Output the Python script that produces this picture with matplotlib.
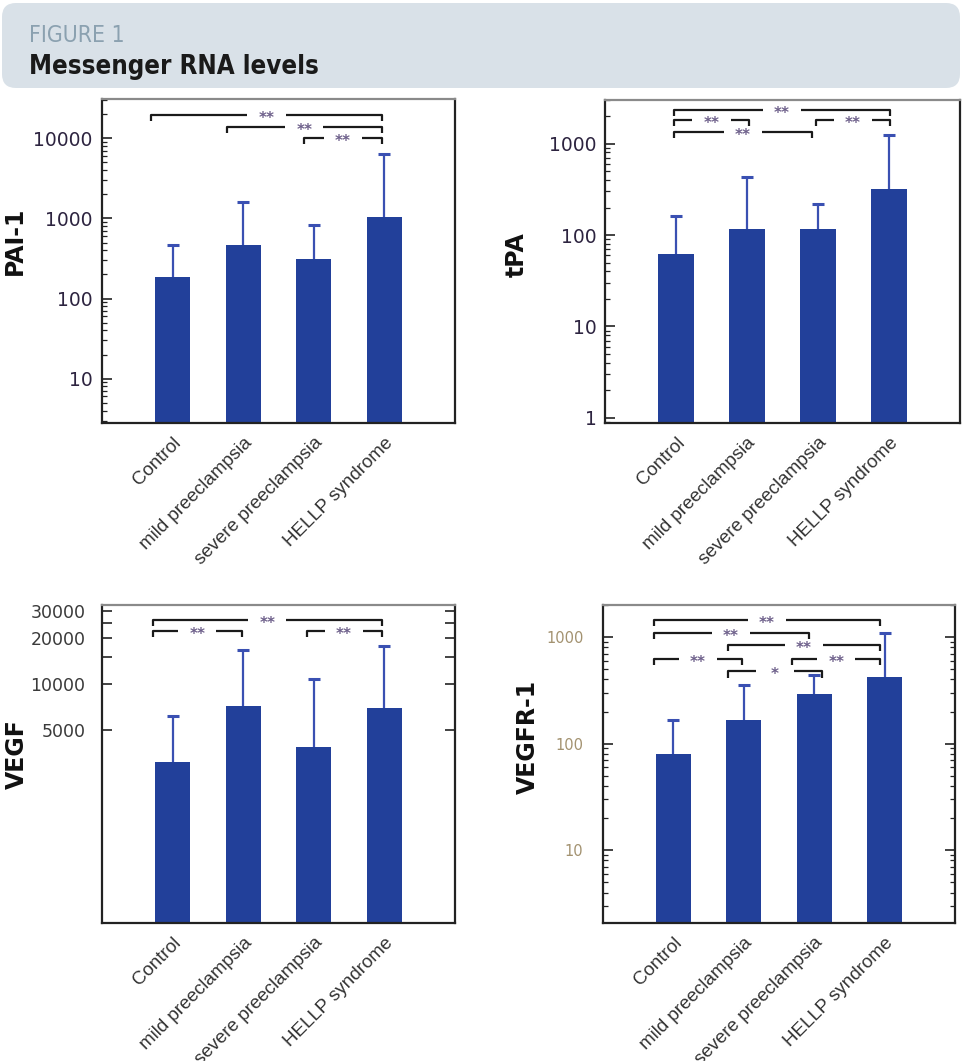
import matplotlib
matplotlib.use('Agg')
from matplotlib import pyplot as plt
from matplotlib.patches import FancyBboxPatch
from matplotlib.ticker import FixedLocator, FuncFormatter, NullFormatter, NullLocator
import numpy as np

groups = ['Control', 'mild preeclampsia', 'severe preeclampsia', 'HELLP syndrome']

pai1_mean = [188, 470, 316, 1030]
pai1_upper = [473, 1590, 840, 6300]

tpa_mean = [62, 117, 117, 316]
tpa_upper = [160, 427, 217, 1250]

vegf_mean = [3130, 7180, 3870, 6970]
vegf_upper = [6200, 16700, 10800, 17700]

vegfr1_mean = [80, 168, 289, 426]
vegfr1_upper = [168, 358, 436, 1090]

# significance brackets: (from, to, level in axes fraction, label)
pai1_sig = [(-0.30, 2.96, 0.951, '**'), (0.77, 2.96, 0.914, '**'), (1.86, 2.96, 0.880, '**')]
tpa_sig = [(-0.03, 3.01, 0.969, '**'), (-0.03, 1.03, 0.938, '**'),
           (-0.03, 1.91, 0.901, '**'), (1.97, 3.01, 0.938, '**')]
vegf_sig = [(-0.28, 2.96, 0.953, '**'), (-0.28, 0.98, 0.918, '**'), (1.90, 2.96, 0.918, '**')]
vegfr1_sig = [(-0.28, 2.94, 0.953, '**'), (-0.28, 1.92, 0.912, '**'), (0.77, 2.94, 0.874, '**'),
              (-0.28, 0.97, 0.830, '**'), (1.69, 2.94, 0.830, '**'), (0.77, 2.11, 0.792, '*')]

BAR = '#22409a'
ERR = '#3a50b2'
W, H = 963, 1061

fig = plt.figure(figsize=(W / 100, H / 100), dpi=100)

# header box in pixel coordinates
hdr = fig.add_axes([0, 0, 1, 1])
hdr.set_xlim(0, W)
hdr.set_ylim(H, 0)
hdr.axis('off')
hdr.add_patch(FancyBboxPatch((2, 3), 958, 85, boxstyle='round,pad=0,rounding_size=14',
                             facecolor='#d9e1e8', edgecolor='none'))
hdr.text(29, 42, 'FIGURE 1', color='#8ba1b0', fontsize=16.5, va='baseline',
         family='DejaVu Sans', fontstretch='condensed')
hdr.text(29, 74, 'Messenger RNA levels', color='#1a1a1a', fontsize=18.5, fontweight='bold',
         va='baseline', family='DejaVu Sans', fontstretch='condensed')


def px_axes(x0, x1, y0, y1):
    return fig.add_axes([x0 / W, 1 - y1 / H, (x1 - x0) / W, (y1 - y0) / H])


def draw_panel(ax, mean, upper, ylim, sig):
    x = np.arange(len(groups))
    ax.set_yscale('log')
    ax.vlines(x, mean, upper, color=ERR, lw=1.6, zorder=1)
    ax.plot(x, upper, ls='none', marker='_', ms=9, mew=2.2, color=ERR, zorder=1)
    ax.bar(x, np.array(mean) - ylim[0], bottom=ylim[0], width=0.5, color=BAR, zorder=2)
    ax.set_xlim(-1, 4)
    ax.set_ylim(*ylim)
    ax.set_xticks(x)
    ax.set_xticklabels(groups, rotation=45, ha='right', va='top', rotation_mode='anchor',
                       fontsize=13.5, color='#333333', family='Liberation Sans')
    ax.tick_params(axis='x', length=0, pad=8)
    for s in ax.spines.values():
        s.set_color('#222222')
        s.set_linewidth(1.6)
    ax.spines['top'].set_color('#8a8a8a')

    tr = ax.get_xaxis_transform()
    drop = 0.02
    gap = 0.27
    for x1, x2, lvl, lab in sig:
        mid = (x1 + x2) / 2
        ax.plot([x1, x1, mid - gap], [lvl - drop, lvl, lvl], color='#1a1a1a', lw=1.6,
                transform=tr, clip_on=False, solid_capstyle='butt')
        ax.plot([mid + gap, x2, x2], [lvl, lvl, lvl - drop], color='#1a1a1a', lw=1.6,
                transform=tr, clip_on=False, solid_capstyle='butt')
        ax.text(mid, lvl - 0.012, lab, transform=tr, ha='center', va='center',
                fontsize=11, color='#6d5f8a', fontweight='bold')


int_fmt = FuncFormatter(lambda v, p: '%d' % v)

# PAI-1
ax1 = px_axes(102, 455, 99, 423)
draw_panel(ax1, pai1_mean, pai1_upper, (2.8, 31000), pai1_sig)
ax1.yaxis.set_major_formatter(int_fmt)
ax1.yaxis.set_minor_formatter(NullFormatter())
ax1.tick_params(axis='y', which='both', direction='in', left=True, right=False,
                labelsize=13.5, labelcolor='#2d2440', pad=7, color='#222222')
ax1.tick_params(axis='y', which='major', length=7, width=1.2)
ax1.tick_params(axis='y', which='minor', length=3.5, width=0.9)
fig.text(15 / W, 1 - 241 / H, 'PAI-1', rotation=90, ha='center', va='center',
         fontsize=17, fontweight='bold', color='#111111')

# tPA
ax2 = px_axes(605, 960, 100, 423)
draw_panel(ax2, tpa_mean, tpa_upper, (0.88, 3000), tpa_sig)
ax2.yaxis.set_major_formatter(int_fmt)
ax2.yaxis.set_minor_formatter(NullFormatter())
ax2.tick_params(axis='y', which='both', direction='in', left=True, right=False,
                labelsize=13.5, labelcolor='#2d2440', pad=6, color='#222222')
ax2.tick_params(axis='y', which='major', length=7, width=1.2)
ax2.tick_params(axis='y', which='minor', length=3.5, width=0.9)
fig.text(517 / W, 1 - 255 / H, 'tPA', rotation=90, ha='center', va='center',
         fontsize=17, fontweight='bold', color='#111111')

# VEGF
vegf_ticks = [5000, 10000, 15000, 20000, 25000, 30000]
vegf_shown = [5000, 10000, 20000, 30000]
ax3 = px_axes(102, 455, 605, 923)
draw_panel(ax3, vegf_mean, vegf_upper, (278, 32800), vegf_sig)
ax3.yaxis.set_major_locator(FixedLocator(vegf_ticks))
ax3.yaxis.set_major_formatter(FuncFormatter(lambda v, p: '%d' % v if int(round(v)) in vegf_shown else ''))
ax3.yaxis.set_minor_locator(NullLocator())
ax3.tick_params(axis='y', which='major', direction='in', left=True, right=True, length=7, width=1.2,
                labelsize=12.5, labelcolor='#3a3a3a', pad=12, color='#222222')
fig.text(17 / W, 1 - 754 / H, 'VEGF', rotation=90, ha='center', va='center',
         fontsize=17, fontweight='bold', color='#111111')

# VEGFR-1
ax4 = px_axes(603, 955, 605, 923)
draw_panel(ax4, vegfr1_mean, vegfr1_upper, (2.07, 2000), vegfr1_sig)
ax4.yaxis.set_major_formatter(int_fmt)
ax4.yaxis.set_minor_formatter(NullFormatter())
ax4.tick_params(axis='y', which='both', direction='in', left=True, right=True,
                labelsize=10.5, labelcolor='#a39270', pad=14, color='#222222')
ax4.tick_params(axis='y', which='major', length=7, width=1.2)
ax4.tick_params(axis='y', which='minor', length=3.5, width=0.9)
fig.text(528 / W, 1 - 737 / H, 'VEGFR-1', rotation=90, ha='center', va='center',
         fontsize=17, fontweight='bold', color='#111111')

fig.savefig('out.png', dpi=100)
